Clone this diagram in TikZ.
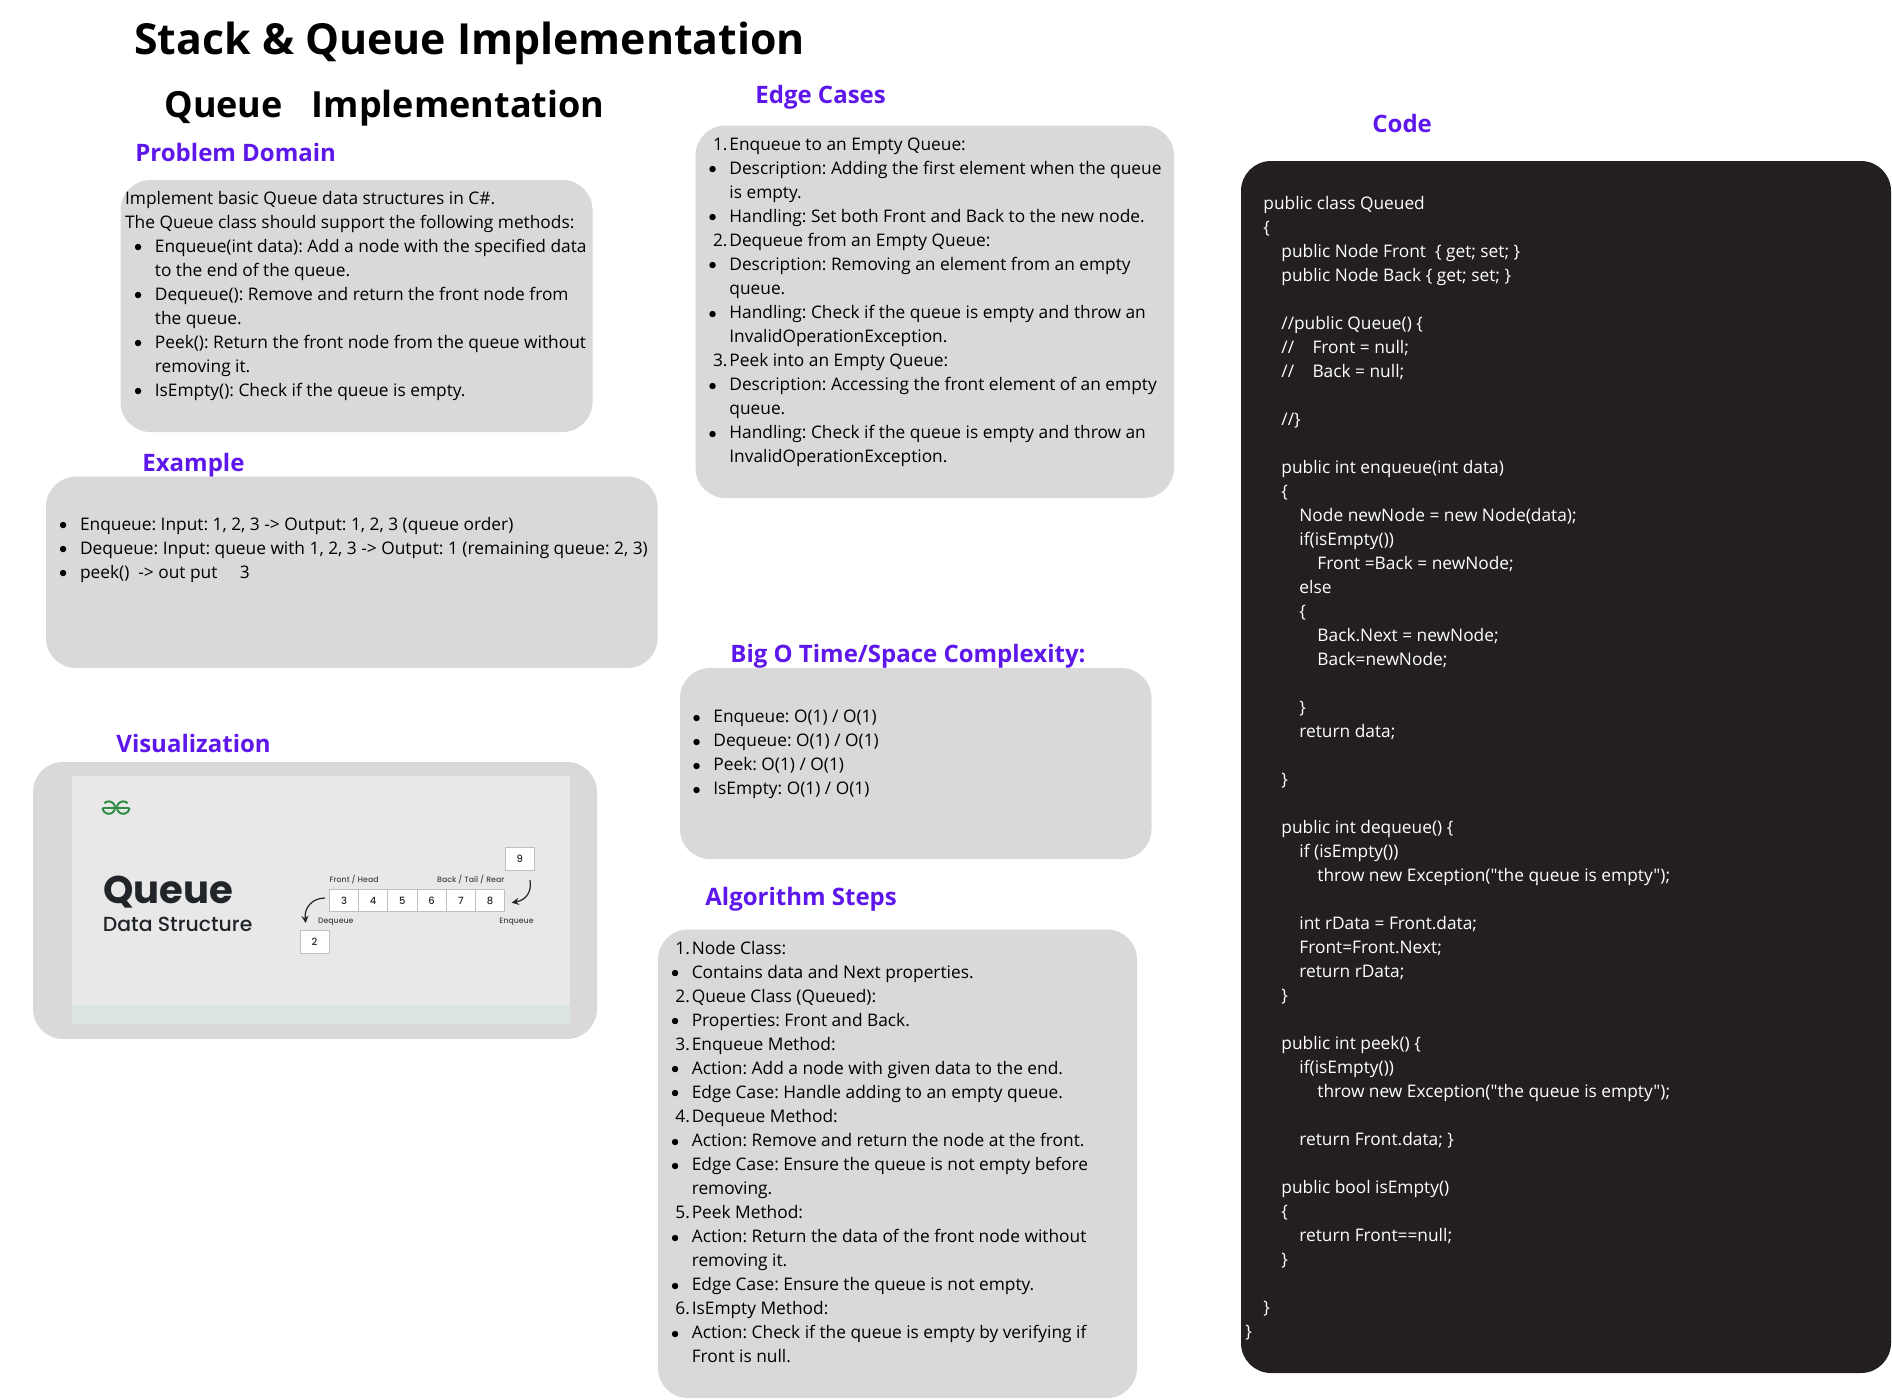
\documentclass[tikz,border=0pt]{standalone}
\usepackage{fontspec}
\setmainfont{Open Sans}
\newfontfamily\codefont{Open Sans}
\newfontfamily\popfont{Poppins}
\newfontfamily\popmedium{Poppins Medium}
\usepackage{tikz}
\definecolor{headpurple}{HTML}{5E17EB}
\definecolor{panelgray}{HTML}{D9D9D9}
\definecolor{codedark}{HTML}{231F20}
\definecolor{shotgray}{HTML}{E8E8E8}
\definecolor{shotstrip}{HTML}{DCE4DF}
\definecolor{shotink}{HTML}{212529}
\definecolor{gfggreen}{HTML}{2F8D46}
\newcommand{\li}[1]{\makebox[10.4pt][l]{\raisebox{0.25pt}{\scalebox{0.88}{$\bullet$}}}#1}
\newcommand{\lc}[1]{\hspace*{10.4pt}#1}
\newcommand{\nm}[2]{\hspace*{2.2pt}\makebox[8.2pt][l]{#1}#2}
\newcommand{\ind}[1]{\hspace*{#1pt}}
\tikzset{
    panel/.style={fill=panelgray, rounded corners=15pt},
    titletext/.style={anchor=base west, inner sep=0pt, font=\fontsize{21.4}{26}\selectfont\bfseries},
    subtitletext/.style={anchor=base west, inner sep=0pt, font=\fontsize{18}{22}\selectfont\bfseries},
    headtext/.style={anchor=base west, inner sep=0pt, text=headpurple, font=\fontsize{12}{15}\selectfont\bfseries},
    bodytext/.style={anchor=north west, inner sep=0pt, align=left, font=\fontsize{8.66}{12.02}\selectfont\frenchspacing},
    codetext/.style={anchor=north west, inner sep=0pt, align=left, text=white, font=\codefont\fontsize{8.66}{12}\selectfont\frenchspacing},
    cell/.style={draw=black!25, fill=white, line width=0.4pt, inner sep=0pt, minimum width=14.6pt, minimum height=11.3pt, text=shotink, font=\popmedium\fontsize{5}{6}\selectfont},
    shotlabel/.style={inner sep=0pt, text=shotink!85, font=\popmedium\fontsize{3.9}{5}\selectfont},
    handarrow/.style={draw=shotink, line width=0.6pt, -stealth}
}
\begin{document}
\begin{tikzpicture}[x=0.5pt, y=-0.5pt]
    \useasboundingbox (0,0) rectangle (1892,1399);

    \node[titletext] (maintitle) at (134,54.5) {Stack \& Queue Implementation};
    \node[subtitletext] (queuetitle) at (164,117) {Queue\hspace{14.5pt}Implementation};

    \node[headtext] (probhead) at (135,161.5) {Problem Domain};
    \fill[panel] (120.5,180) rectangle (592.5,432);
    \node[bodytext] (probintro) at (124.7,187) {\strut Implement basic Queue data structures in C\#.\\The Queue class should support the following methods:};
    \node[bodytext] (problist) at (133.7,235) {\strut\li{Enqueue(int data): Add a node with the specified data}\\
        \lc{to the end of the queue.}\\
        \li{Dequeue(): Remove and return the front node from}\\
        \lc{the queue.}\\
        \li{Peek(): Return the front node from the queue without}\\
        \lc{removing it.}\\
        \li{IsEmpty(): Check if the queue is empty.}};

    \node[headtext] (examplehead) at (142,471.6) {Example};
    \fill[panel] (46,476.6) rectangle (657.6,668);
    \node[bodytext] (examplelist) at (58.8,513) {\strut\li{Enqueue: Input: 1, 2, 3 -> Output: 1, 2, 3 (queue order)}\\
        \li{Dequeue: Input: queue with 1, 2, 3 -> Output: 1 (remaining queue: 2, 3)}\\
        \li{peek()\ \ -> out put\hspace{11.2pt}3}};

    \node[headtext] (vizhead) at (116,752.7) {Visualization};
    \fill[panel] (33,762) rectangle (597,1039);
    \fill[shotgray] (71.7,776) rectangle (570,1024);
    \fill[shotstrip] (71.7,1005) rectangle (570,1024);
    \draw[gfggreen, line width=1pt] (103,808) -- (129,808);
    \draw[gfggreen, line width=1pt] (104.4,803.2) arc[start angle=-135, end angle=180, radius=6.2];
    \draw[gfggreen, line width=1pt] (127.6,803.2) arc[start angle=-45, end angle=-360, radius=6.2];
    \node[anchor=base west, inner sep=0pt, text=shotink, font=\popfont\fontsize{19.3}{24}\selectfont\bfseries] (shotqueue) at (103,903.5) {Queue};
    \node[anchor=base west, inner sep=0pt, text=shotink, font=\popmedium\fontsize{10.2}{12}\selectfont] (shotdata) at (102.5,931) {Data Structure};
    \node[cell] (cellthree) at (344,900.5) {3};
    \node[cell] (cellfour) at (373.2,900.5) {4};
    \node[cell] (cellfive) at (402.4,900.5) {5};
    \node[cell] (cellsix) at (431.6,900.5) {6};
    \node[cell] (cellseven) at (460.8,900.5) {7};
    \node[cell] (celleight) at (490,900.5) {8};
    \node[cell] (cellnine) at (519.7,858.6) {9};
    \node[cell] (celltwo) at (314.6,942) {2};
    \node[shotlabel, anchor=west] (frontlabel) at (329.3,879) {Front / Head};
    \node[shotlabel, anchor=east] (backlabel) at (504.7,879) {Back / Tail / Rear};
    \node[shotlabel, anchor=west] (deqlabel) at (317.7,921.3) {Dequeue};
    \node[shotlabel, anchor=east] (enqlabel) at (534,921.3) {Enqueue};
    \coordinate (deqstart) at (325,898);
    \coordinate (deqend) at (305.7,923);
    \coordinate (enqstart) at (530,880);
    \coordinate (enqend) at (511.7,902.7);
    \draw[handarrow] (deqstart) .. controls (312,898) and (304,908) .. (deqend);
    \draw[handarrow] (enqstart) .. controls (532,892) and (526,900) .. (enqend);

    \node[headtext] (edgehead) at (755,103) {Edge Cases};
    \fill[panel] (695.5,125.5) rectangle (1174,498);
    \node[bodytext] (edgelist) at (708.2,133) {\strut\nm{1.}{Enqueue to an Empty Queue:}\\
        \li{Description: Adding the first element when the queue}\\
        \lc{is empty.}\\
        \li{Handling: Set both Front and Back to the new node.}\\
        \nm{2.}{Dequeue from an Empty Queue:}\\
        \li{Description: Removing an element from an empty}\\
        \lc{queue.}\\
        \li{Handling: Check if the queue is empty and throw an}\\
        \lc{InvalidOperationException.}\\
        \nm{3.}{Peek into an Empty Queue:}\\
        \li{Description: Accessing the front element of an empty}\\
        \lc{queue.}\\
        \li{Handling: Check if the queue is empty and throw an}\\
        \lc{InvalidOperationException.}};

    \node[headtext] (bigohead) at (730,662) {Big O Time/Space Complexity:};
    \fill[panel] (680,668) rectangle (1151.5,859);
    \node[bodytext] (bigolist) at (692.2,705.5) {\strut\li{Enqueue: O(1) / O(1)}\\
        \li{Dequeue: O(1) / O(1)}\\
        \li{Peek: O(1) / O(1)}\\
        \li{IsEmpty: O(1) / O(1)}};

    \node[headtext] (algohead) at (705,905) {Algorithm Steps};
    \fill[panel] (658,929.5) rectangle (1137,1398);
    \node[bodytext] (algolist) at (670.6,937) {\strut\nm{1.}{Node Class:}\\
        \li{Contains data and Next properties.}\\
        \nm{2.}{Queue Class (Queued):}\\
        \li{Properties: Front and Back.}\\
        \nm{3.}{Enqueue Method:}\\
        \li{Action: Add a node with given data to the end.}\\
        \li{Edge Case: Handle adding to an empty queue.}\\
        \nm{4.}{Dequeue Method:}\\
        \li{Action: Remove and return the node at the front.}\\
        \li{Edge Case: Ensure the queue is not empty before}\\
        \lc{removing.}\\
        \nm{5.}{Peek Method:}\\
        \li{Action: Return the data of the front node without}\\
        \lc{removing it.}\\
        \li{Edge Case: Ensure the queue is not empty.}\\
        \nm{6.}{IsEmpty Method:}\\
        \li{Action: Check if the queue is empty by verifying if}\\
        \lc{Front is null.}};

    \node[headtext] (codehead) at (1372,132.5) {Code};
    \fill[codedark, rounded corners=15pt] (1241,161) rectangle (1891,1373);
    \node[codetext] (codelist) at (1245,192) {\strut\ind{9}public class Queued\\
        \ind{9}\{\\
        \ind{18}public Node Front\ \ \{ get; set; \}\\
        \ind{18}public Node Back \{ get; set; \}\\
        ~\\
        \ind{18}//public Queue() \{\\
        \ind{18}//\hspace{9.2pt}Front = null;\\
        \ind{18}//\hspace{9.2pt}Back = null;\\
        ~\\
        \ind{18}//\}\\
        ~\\
        \ind{18}public int enqueue(int data)\\
        \ind{18}\{\\
        \ind{27}Node newNode = new Node(data);\\
        \ind{27}if(isEmpty())\\
        \ind{36}Front =Back = newNode;\\
        \ind{27}else\\
        \ind{27}\{\\
        \ind{36}Back.Next = newNode;\\
        \ind{36}Back=newNode;\\
        ~\\
        \ind{27}\}\\
        \ind{27}return data;\\
        ~\\
        \ind{18}\}\\
        ~\\
        \ind{18}public int dequeue() \{\\
        \ind{27}if (isEmpty())\\
        \ind{36}throw new Exception("the queue is empty");\\
        ~\\
        \ind{27}int rData = Front.data;\\
        \ind{27}Front=Front.Next;\\
        \ind{27}return rData;\\
        \ind{18}\}\\
        ~\\
        \ind{18}public int peek() \{\\
        \ind{27}if(isEmpty())\\
        \ind{36}throw new Exception("the queue is empty");\\
        ~\\
        \ind{27}return Front.data; \}\\
        ~\\
        \ind{18}public bool isEmpty()\\
        \ind{18}\{\\
        \ind{27}return Front==null;\\
        \ind{18}\}\\
        ~\\
        \ind{9}\}\\
        \}};
\end{tikzpicture}
\end{document}
